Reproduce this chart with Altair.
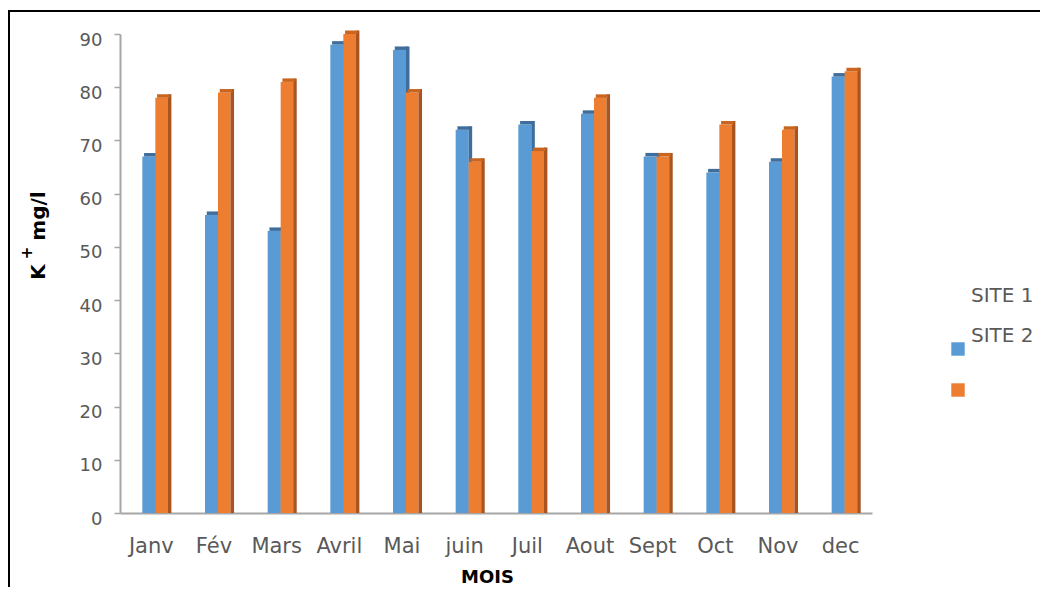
import altair as alt
import pandas as pd

months = ["Janv", "Fév", "Mars", "Avril", "Mai", "juin", "Juil", "Aout", "Sept", "Oct", "Nov", "dec"]
site1 = [67, 56, 53, 88, 87, 72, 73, 75, 67, 64, 66, 82]
site2 = [78, 79, 81, 90, 79, 66, 68, 78, 67, 73, 72, 83]
y_ticks = [0, 10, 20, 30, 40, 50, 60, 70, 80, 90]
legend_labels = ["SITE 1", "SITE 2"]
y_title_parts = ["K", "+", "mg/l"]
x_title = "MOIS"

BLUE = "#5B9BD5"
BLUE_DARK = "#3F6E9C"
ORANGE = "#ED7D31"
ORANGE_DARK = "#A85420"
FONT = "DejaVu Sans"

df = pd.DataFrame({"month": months, "s1": site1, "s2": site2})

W, H = 752, 479

x_enc = alt.X("month:N", sort=months,
              scale=alt.Scale(paddingInner=0, paddingOuter=0),
              axis=alt.Axis(title=x_title, labelAngle=0, ticks=False, tickSize=0,
                            labelFont=FONT, labelFontSize=21, labelColor="#595959",
                            labelPadding=22, domainColor="#A6A6A6", domainWidth=2,
                            titleFont=FONT, titleFontSize=18, titleFontWeight="bold",
                            titleColor="#000000", titleX=367, titleY=64,
                            titleAnchor="start", titleAlign="center", titleBaseline="middle"))
y_scale = alt.Scale(domain=[0, 90], nice=False, zero=True)
y_axis = alt.Axis(values=y_ticks, title=None, grid=False, tickSize=6,
                  tickColor="#A6A6A6", tickWidth=1.5, domainColor="#A6A6A6", domainWidth=2,
                  labelFont=FONT, labelFontSize=18, labelColor="#595959",
                  labelPadding=12, labelOffset=6)

base = alt.Chart(df)

blue_front = base.mark_bar(color=BLUE, width=13, xOffset=-2.5).encode(
    x=x_enc, y=alt.Y("s1:Q", scale=y_scale, axis=y_axis))
blue_side = base.mark_bar(color=BLUE_DARK, width=3.5, xOffset=5.75, yOffset=-3.5).encode(
    x=x_enc, y=alt.Y("s1:Q"), y2=alt.datum(0))
blue_top = base.mark_bar(color=BLUE_DARK, width=13, xOffset=-0.75, yOffset=-3.5, y2Offset=0).encode(
    x=x_enc, y=alt.Y("s1:Q"), y2=alt.Y2("s1:Q"))

orange_front = base.mark_bar(color=ORANGE, width=12.6, xOffset=10.3).encode(
    x=x_enc, y=alt.Y("s2:Q"))
orange_side = base.mark_bar(color=ORANGE_DARK, width=3.5, xOffset=18.3, yOffset=-3.5).encode(
    x=x_enc, y=alt.Y("s2:Q"), y2=alt.datum(0))
orange_top = base.mark_bar(color="#C9651F", width=12.6, xOffset=12.05, yOffset=-3.5, y2Offset=0).encode(
    x=x_enc, y=alt.Y("s2:Q"), y2=alt.Y2("s2:Q"))


def label(text, x, y, size, bold=False, color="#000000", angle=0, align="center"):
    d = pd.DataFrame({"t": [text]})
    kw = dict(font=FONT, fontSize=size, color=color, align=align, baseline="middle")
    if bold:
        kw["fontWeight"] = "bold"
    if angle:
        kw["angle"] = angle
    return alt.Chart(d).mark_text(**kw).encode(x=alt.value(x), y=alt.value(y), text="t:N")


# y-axis title (rotated) with superscript
yt_k = label(y_title_parts[0], -81, 238, 20, bold=True, angle=270)
yt_sup = label(y_title_parts[1], -93, 219, 15, bold=True, angle=270)
yt_mg = label(y_title_parts[2], -81, 182, 20, bold=True, angle=270)

# legend (as in reference, labels above the swatches)
leg1 = label(legend_labels[0], 851, 262, 20, color="#595959", align="left")
leg2 = label(legend_labels[1], 851, 302, 20, color="#595959", align="left")

sw_df = pd.DataFrame({"k": [0]})
sw1 = alt.Chart(sw_df).mark_square(size=180, opacity=1, filled=True, color=BLUE).encode(
    x=alt.value(838), y=alt.value(315))
sw2 = alt.Chart(sw_df).mark_square(size=180, opacity=1, filled=True, color=ORANGE).encode(
    x=alt.value(838), y=alt.value(356))

border = alt.Chart(sw_df).mark_rect(fill="transparent", stroke="#000000", strokeWidth=2).encode(
    x=alt.value(-111), x2=alt.value(960), y=alt.value(-23), y2=alt.value(600))

chart = alt.layer(
    border, blue_front, blue_side, blue_top, orange_front, orange_side, orange_top,
    yt_k, yt_sup, yt_mg, leg1, leg2, sw1, sw2
).properties(
    width=W, height=H,
    padding={"left": 112, "top": 26, "right": 168, "bottom": 74},
    autosize=alt.AutoSizeParams(type="none"),
    background="white",
).configure_view(stroke=None)

chart.save("out.html", embed_options={"renderer": "svg", "actions": False})
